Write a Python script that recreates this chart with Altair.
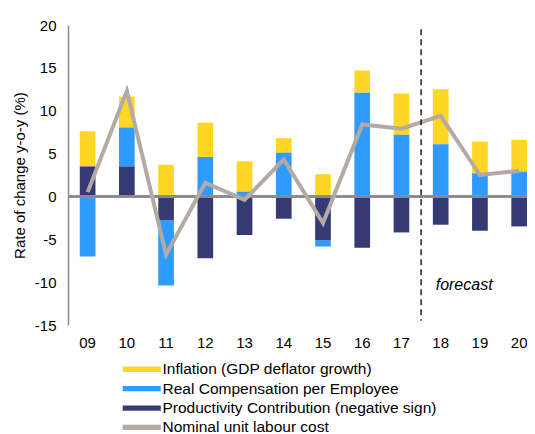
import altair as alt
import pandas as pd

years = ["09", "10", "11", "12", "13", "14", "15", "16", "17", "18", "19", "20"]
inflation = [4.1, 3.6, 3.7, 4.0, 3.55, 1.7, 2.6, 2.6, 4.8, 6.4, 3.7, 3.7]
real_comp = [-7.0, 4.55, -7.6, 4.6, 0.55, 5.1, -0.75, 12.1, 7.2, 6.1, 2.7, 2.9]
productivity = [3.5, 3.5, -2.8, -7.2, -4.5, -2.6, -5.1, -6.0, -4.2, -3.3, -4.0, -3.5]
nulc = [0.5, 12.3, -6.8, 1.6, -0.4, 4.3, -3.1, 8.4, 7.9, 9.4, 2.5, 3.0]

series_names = [
    "Inflation (GDP deflator growth)",
    "Real Compensation per Employee",
    "Productivity Contribution (negative sign)",
    "Nominal unit labour cost",
]
series_colors = ["#FFD624", "#2F9BFF", "#353A72", "#B4AAA4"]
stack_order = {series_names[2]: 0, series_names[1]: 1, series_names[0]: 2}

rows = []
for i, y in enumerate(years):
    for name, vals in zip(series_names[:3], [inflation, real_comp, productivity]):
        rows.append({"year": y, "series": name, "value": vals[i], "ord": stack_order[name]})
bars_df = pd.DataFrame(rows)
line_df = pd.DataFrame({"year": years, "value": nulc})

FONT = "Liberation Sans"

xscale = alt.Scale(domain=years, paddingInner=0.6, paddingOuter=0.15, align=1)
yscale = alt.Scale(domain=[-15, 20], nice=False, zero=False)

legend_path = "M-5,-0.7L5,-0.7L5,0.7L-5,0.7Z"

bars = alt.Chart(bars_df).mark_bar().encode(
    x=alt.X("year:N", scale=xscale, sort=years,
            axis=alt.Axis(title=None, domain=False, ticks=False, labelAngle=0,
                          labelFontSize=15, labelPadding=10, labelColor="#000")),
    y=alt.Y("value:Q", scale=yscale, stack="zero",
            axis=alt.Axis(title="Rate of change y-o-y (%)", values=[-15, -10, -5, 0, 5, 10, 15, 20],
                          labelExpr="toString(datum.value)",
                          grid=False, ticks=False, domainColor="#8A8A8A", domainWidth=1.5,
                          labelFontSize=15, labelPadding=12, labelColor="#000",
                          titleFontSize=15, titleFontWeight="normal", titleColor="#000",
                          titlePadding=7)),
    color=alt.Color("series:N",
                    scale=alt.Scale(domain=series_names, range=series_colors),
                    legend=alt.Legend(title=None, orient="none", legendX=66, legendY=336.5,
                                      direction="vertical", symbolType=legend_path,
                                      symbolSize=58, symbolStrokeWidth=0,
                                      labelFontSize=15.5, labelOffset=13, labelColor="#000",
                                      rowPadding=2.4, labelLimit=400)),
    order=alt.Order("ord:Q"),
)

zero = alt.Chart(line_df).mark_rule(color="#8A8A8A", strokeWidth=1.5).encode(
    y=alt.datum(0, scale=yscale)
)

line = alt.Chart(line_df).mark_line(color="#B4AAA4", strokeWidth=4).encode(
    x=alt.X("year:N", scale=xscale, sort=years),
    y=alt.Y("value:Q", scale=yscale),
)

fc_df = pd.DataFrame({"year": ["18"], "top": [19.5], "bottom": [-14.5], "ty": [-10.3], "label": ["forecast"]})

dash = alt.Chart(fc_df).mark_rule(color="#000", strokeWidth=1.3, strokeDash=[6, 4], xOffset=-19.6).encode(
    x=alt.X("year:N", scale=xscale, sort=years),
    y=alt.Y("top:Q", scale=yscale),
    y2="bottom:Q",
)

fc_text = alt.Chart(fc_df).mark_text(align="left", baseline="middle", fontSize=16,
                                      fontStyle="italic", font=FONT, color="#000", dx=-5).encode(
    x=alt.X("year:N", scale=xscale, sort=years),
    y=alt.Y("ty:Q", scale=yscale),
    text="label:N",
)

chart = alt.layer(bars, zero, line, dash, fc_text).properties(
    width=459, height=300,
    autosize=alt.AutoSizeParams(type="none"),
    padding={"left": 60, "top": 17, "right": 0, "bottom": 109},
).configure(font=FONT).configure_view(stroke=None)

chart.save("out.html", embed_options={"renderer": "svg", "actions": False})
